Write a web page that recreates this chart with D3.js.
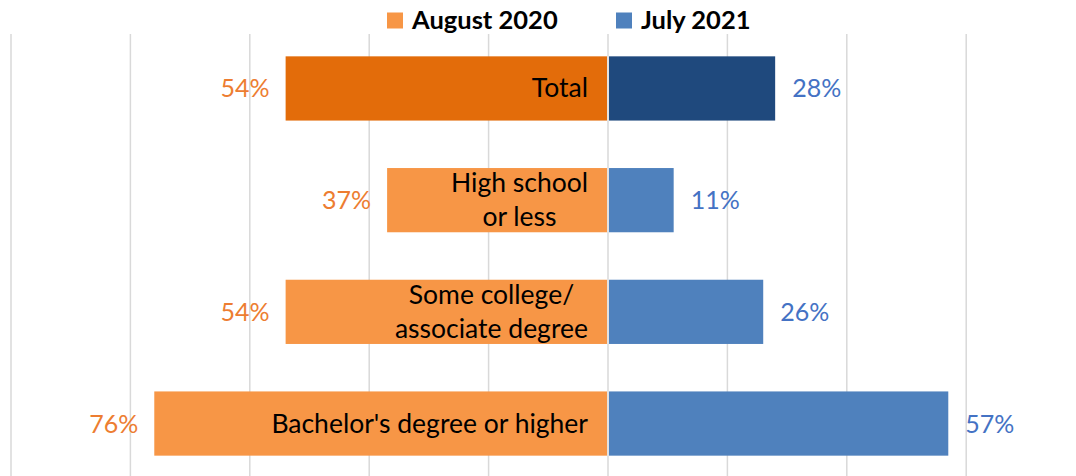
<!DOCTYPE html>
<html lang="en">
<head>
	<meta charset="UTF-8">
	<title>Chart</title>
	<script src="https://cdn.jsdelivr.net/npm/d3@7/dist/d3.min.js"></script>
	<style>
		body { margin: 0; background: #fff; }
		text { font-family: Lato, "Open Sans", sans-serif; }
	</style>
</head>
<body>
<script type="text/javascript">
// data
var categories = ["Total", "High school\nor less", "Some college/\nassociate degree", "Bachelor's degree or higher"];
var aug2020 = [54, 37, 54, 76];
var jul2021 = [28, 11, 26, 57];
var seriesNames = ["August 2020", "July 2021"];
var gridTicks = [-100, -80, -60, -40, -20, 0, 20, 40, 60];

var width = 1076;
var height = 476;
var svg = d3.select("body").append("svg").attr("width", width).attr("height", height);

// scales
var xScale = d3.scaleLinear().domain([-100, 80]).range([11, 11 + 180 * 5.97]);
var yScale = d3.scaleBand().domain(d3.range(categories.length)).range([34, 478])
			.paddingInner(0.425).paddingOuter(0.2);
var x0 = xScale(0);

// colours: first row (Total) darker
var orange = ["#E36C0A", "#F79646", "#F79646", "#F79646"];
var blue = ["#1F497D", "#4F81BD", "#4F81BD", "#4F81BD"];

// gridlines
svg.append("g").selectAll("line").data(gridTicks).enter().append("line")
	.attr("x1", function(d){ return xScale(d); })
	.attr("x2", function(d){ return xScale(d); })
	.attr("y1", 34).attr("y2", height)
	.attr("stroke", "#d9d9d9").attr("stroke-width", 1.5);

// bars
svg.append("g").selectAll("rect").data(aug2020).enter().append("rect")
	.attr("x", function(d){ return xScale(-d); })
	.attr("y", function(d, i){ return yScale(i); })
	.attr("width", function(d){ return x0 - xScale(-d) - 1; })
	.attr("height", yScale.bandwidth())
	.attr("fill", function(d, i){ return orange[i]; });

svg.append("g").selectAll("rect").data(jul2021).enter().append("rect")
	.attr("x", x0 + 1)
	.attr("y", function(d, i){ return yScale(i); })
	.attr("width", function(d){ return xScale(d) - x0 - 1; })
	.attr("height", yScale.bandwidth())
	.attr("fill", function(d, i){ return blue[i]; });

// value labels
var mid = function(i){ return yScale(i) + yScale.bandwidth() / 2; };
svg.append("g").selectAll("text").data(aug2020).enter().append("text")
	.attr("x", function(d){ return xScale(-d) - 16; })
	.attr("y", function(d, i){ return mid(i) + 9; })
	.attr("text-anchor", "end").attr("font-size", "25px").attr("fill", "#ED7D31")
	.text(function(d){ return d + "%"; });

svg.append("g").selectAll("text").data(jul2021).enter().append("text")
	.attr("x", function(d){ return xScale(d) + 17; })
	.attr("y", function(d, i){ return mid(i) + 9; })
	.attr("text-anchor", "start").attr("font-size", "25px").attr("fill", "#4472C4")
	.text(function(d){ return d + "%"; });

// category labels, centred lines, block right-aligned near the middle
categories.forEach(function(c, i){
	var lines = c.split("\n");
	var g = svg.append("g");
	var texts = g.selectAll("text").data(lines).enter().append("text")
		.attr("font-size", "26.5px").attr("fill", "#000").attr("text-anchor", "middle")
		.attr("y", function(d, j){ return mid(i) + (j - (lines.length - 1) / 2) * 34 + 9; })
		.text(function(d){ return d; });
	var w = d3.max(texts.nodes(), function(n){ return n.getComputedTextLength(); });
	texts.attr("x", x0 - 20 - w / 2);
});

// legend
var legend = svg.append("g");
var legX = [387, 616];
var legColors = ["#F79646", "#4F81BD"];
seriesNames.forEach(function(s, i){
	legend.append("rect").attr("x", legX[i]).attr("y", 12.5).attr("width", 16).attr("height", 16)
		.attr("fill", legColors[i]);
	legend.append("text").attr("x", legX[i] + 25).attr("y", 28.5)
		.attr("font-size", "25.5px").attr("font-weight", "bold").attr("fill", "#000")
		.text(s);
});
</script>
</body>
</html>
